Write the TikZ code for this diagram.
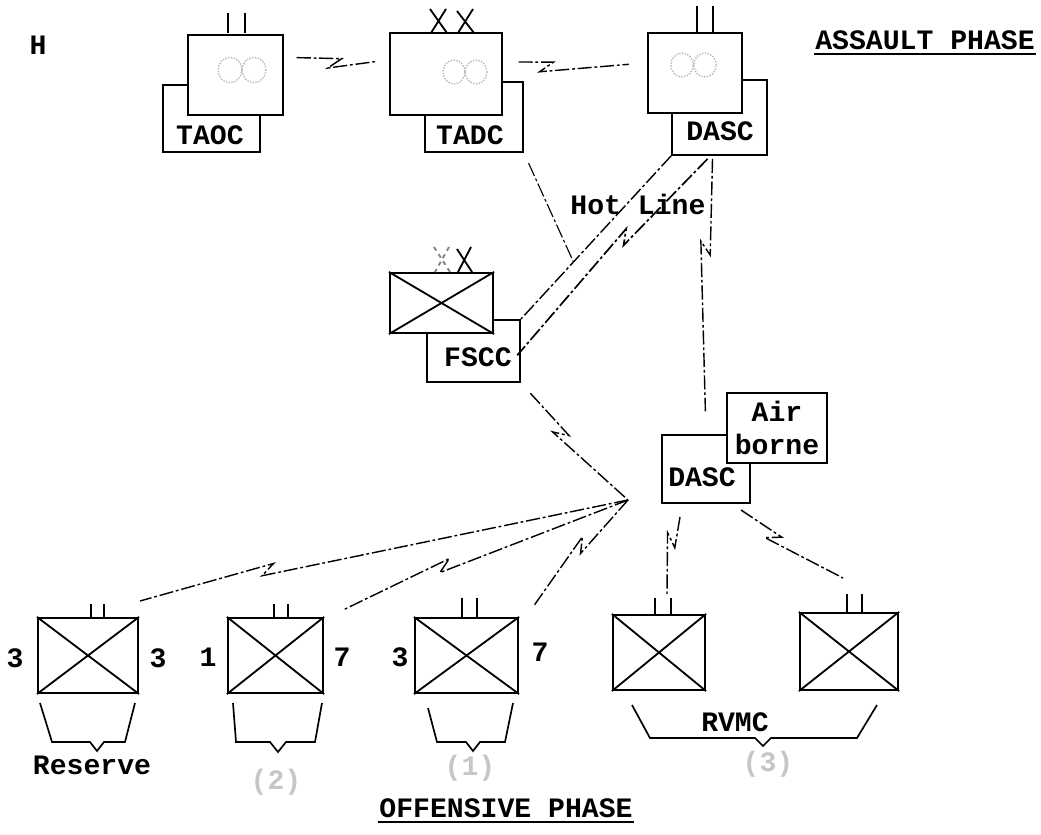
\documentclass[tikz,border=0pt]{standalone}
\usepackage{fontspec}
\newfontfamily\typew{Liberation Mono}
\usepackage{tikz}
\usetikzlibrary{calc,positioning}

\begin{document}
\begin{tikzpicture}[x=0.025cm, y=-0.025cm,
  every node/.style={font=\typew\bfseries\fontsize{20}{23}\selectfont, inner sep=1pt},
  hq/.style={draw, line width=1.5pt, fill=white, inner sep=0pt},
  tagbox/.style={draw, line width=1.3pt, fill=white, inner sep=0pt},
  link/.style={line width=1pt, dash pattern=on 10pt off 2pt on 2pt off 2pt},
  radio/.style={link, to path={-- ($(\tikztostart)!#1!(\tikztotarget)$)
      -- ($(\tikztostart)!#1!(\tikztotarget)!12pt!-145:(\tikztotarget)$)
      -- (\tikztotarget) \tikztonodes}},
  radio/.default=.5,
  bar/.style={line width=1.6pt},
  cross/.style={line width=1.3pt},
  brace/.style={line width=1.2pt},
  prop/.style={gray!55, densely dotted, line width=1pt},
  faint/.style={text=gray!45}]
  \useasboundingbox (0,0) rectangle (1041,835);

  \node (h) at (38,45) {H};

  % assault phase
  \node[tagbox, minimum width=2.425cm, minimum height=1.675cm] (taocl) at (211.5,118.5) {};
  \node[hq, minimum width=2.375cm, minimum height=2cm] (taoc) at (235.5,75) {};
  \node (taoct) at (210,135) {TAOC};
  \draw[prop] (230,70) ellipse [x radius=8.5pt, y radius=9pt] (254,70) ellipse [x radius=8.5pt, y radius=9pt];
  \draw[bar] (228,13) -- (228,33) (245,13) -- (245,33);

  \node[tagbox, minimum width=2.45cm, minimum height=1.75cm] (tadcl) at (474,117) {};
  \node[hq, minimum width=2.8cm, minimum height=2.05cm] (tadc) at (446,74) {};
  \node (tadct) at (470,135) {TADC};
  \draw[prop] (454,72) ellipse [x radius=7.8pt, y radius=8.5pt] (476,72) ellipse [x radius=7.8pt, y radius=8.5pt];
  \draw[cross] (430,9) -- (447,33) (446,9) -- (431,33) (457,11) -- (474,33) (473,9) -- (458,33);

  \node[tagbox, minimum width=2.375cm, minimum height=1.875cm] (dascl) at (719.5,117.5) {};
  \node[hq, minimum width=2.35cm, minimum height=2cm] (dasc) at (695,73) {};
  \node (dasct) at (720,131) {DASC};
  \draw[prop] (682,65) ellipse [x radius=8pt, y radius=8.5pt] (705,65) ellipse [x radius=8pt, y radius=8.5pt];
  \draw[bar] (697,6) -- (697,33) (713,6) -- (713,33);

  \node (assault) at (925,40) {ASSAULT PHASE};
  \draw[line width=1.5pt] ([yshift=-2pt]assault.south west) -- ([yshift=-2pt]assault.south east);

  \draw[radio=.55, shorten <=9pt, shorten >=9.5pt] (taoc.20) to (tadc.166);
  \draw[radio=.35, shorten <=11pt, shorten >=13pt] (tadc.12) to (dasc.168);

  % fire support and hot line
  \node[tagbox, minimum width=2.325cm, minimum height=1.55cm] (fsccl) at (473.5,351) {};
  \node[hq, minimum width=2.575cm, minimum height=1.5cm] (fscc) at (441.5,303) {};
  \draw[cross] (fscc.north west) -- (fscc.south east) (fscc.north east) -- (fscc.south west);
  \draw[cross, gray, dashed] (434,247) -- (450,272) (449,247) -- (435,272);
  \draw[cross] (457,249) -- (472,272) (471,247) -- (458,272);
  \node (fscct) at (478,357) {FSCC};

  \coordinate (join) at ($(dascl.south west)!0.65!(fsccl.north east)$);
  \coordinate (hb) at ($(dascl.south)+(-12,3)$);
  \coordinate (vt) at ($(dascl.south)+(-7,3)$);
  \draw[link] (dascl.south west) -- (fsccl.north east);
  \draw[radio=.45, line width=1.2pt, shorten >=-4pt] (hb) to (fsccl.east);
  \draw[link, line width=0.8pt, shorten <=8pt] (tadcl.south east) -- (join);
  \node (hot) at (638,204) {Hot Line};

  % airborne dasc
  \node[hq, minimum width=2.2cm, minimum height=1.7cm] (dasc2) at (706,469) {};
  \node (dasc2t) at (702,477) {DASC};
  \node[tagbox, minimum width=2.5cm, minimum height=1.75cm, align=center] (air) at (777,428) {Air\\borne};
  \draw[radio=.35, shorten >=16pt] (vt) to (dasc2.north);

  \coordinate (hub) at (628,500);
  \draw[radio=.45, shorten <=10pt] (fsccl.south east) to (hub);

  % offensive phase
  \node[hq, minimum width=2.5cm, minimum height=1.875cm] (u1) at (88,655.5) {};
  \node[hq, minimum width=2.375cm, minimum height=1.875cm] (u2) at (275.5,655.5) {};
  \node[hq, minimum width=2.575cm, minimum height=1.875cm] (u3) at (466.5,655.5) {};
  \node[hq, minimum width=2.3cm, minimum height=1.875cm] (u4) at (659,652.5) {};
  \node[hq, minimum width=2.45cm, minimum height=1.925cm] (u5) at (849,651.5) {};
  \draw[cross] (u1.north west) -- (u1.south east) (u1.north east) -- (u1.south west);
  \draw[cross] (u2.north west) -- (u2.south east) (u2.north east) -- (u2.south west);
  \draw[cross] (u3.north west) -- (u3.south east) (u3.north east) -- (u3.south west);
  \draw[cross] (u4.north west) -- (u4.south east) (u4.north east) -- (u4.south west);
  \draw[cross] (u5.north west) -- (u5.south east) (u5.north east) -- (u5.south west);
  \draw[bar] (91,604) -- (91,618) (104,604) -- (104,618);
  \draw[bar] (274,604) -- (274,618) (288,604) -- (288,618);
  \draw[bar] (462,598) -- (462,618) (477,598) -- (477,618);
  \draw[bar] (655,598) -- (655,615) (671,598) -- (671,615);
  \draw[bar] (847,594) -- (847,613) (862,594) -- (862,613);

  \node (l1) at (15,658) {3};
  \node (r1) at (158,658) {3};
  \node (l2) at (208,657) {1};
  \node (r2) at (342,657) {7};
  \node (l3) at (400,657) {3};
  \node (r3) at (540,652) {7};

  \coordinate (t1) at (140,601);
  \coordinate (t2) at (343,610);
  \coordinate (t3) at (533,607);
  \coordinate (s4) at (680,517);
  \coordinate (t4) at (667,594);
  \coordinate (s5) at (741,510);
  \coordinate (t5) at (843,578);
  \draw[radio=.75] (hub) to (t1);
  \draw[radio=.66] (hub) to (t2);
  \draw[radio=.5] (hub) to (t3);
  \draw[radio=.4] (s4) to (t4);
  \draw[radio=.4] (s5) to (t5);

  \draw[brace] (40,703) -- (52,742) -- (90,742) -- (97,751) -- (104,742) -- (125,742) -- (135,703);
  \draw[brace] (233,703) -- (236,742) -- (270,742) -- (278,752) -- (286,742) -- (315,742) -- (322,703);
  \draw[brace] (428,708) -- (437,742) -- (466,742) -- (473,751) -- (480,742) -- (505,742) -- (513,703);
  \draw[brace] (632,705) -- (650,738) -- (755,738) -- (763,746) -- (771,738) -- (857,738) -- (877,705);
  \node (reserve) at (92,765) {Reserve};
  \node (rvmc) at (735,722) {RVMC};
  \node[faint] (m2) at (276,782) {(2)};
  \node[faint] (m3) at (470,768) {(1)};
  \node[faint] (m4) at (768,764) {(3)};

  \node (offensive) at (506,808) {OFFENSIVE PHASE};
  \draw[line width=1.5pt] ([yshift=-2pt]offensive.south west) -- ([yshift=-2pt]offensive.south east);
\end{tikzpicture}
\end{document}
